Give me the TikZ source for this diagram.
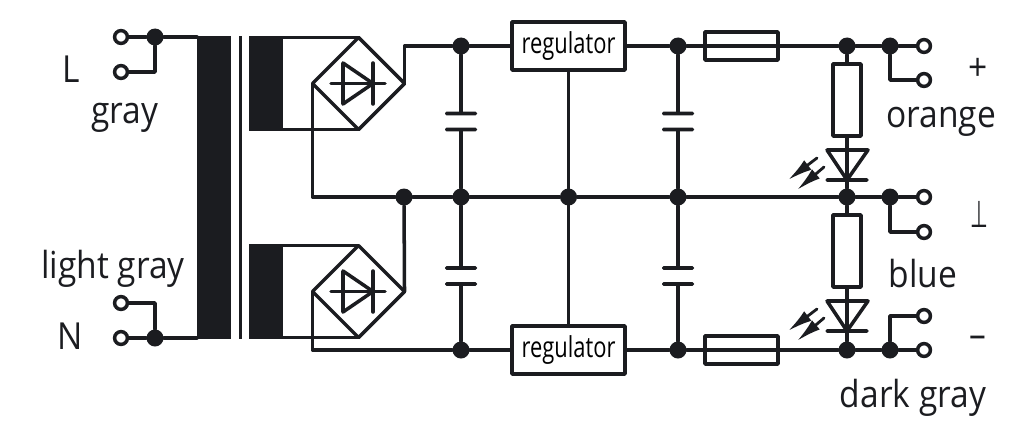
\documentclass[tikz,border=0pt]{standalone}
\usepackage{fontspec}
\setmainfont[FakeStretch=0.9]{Open Sans}
\newfontfamily\regfont[FakeStretch=0.76]{Open Sans}
\newfontfamily\symfont[FakeStretch=0.55]{DejaVu Sans}
\usetikzlibrary{arrows.meta, shapes.geometric}
\definecolor{ink}{HTML}{1B1C20}
\tikzset{
  wire/.style = {draw = ink, line width = 2.5pt, line cap = round, line join = round},
  dot/.style = {circle, fill = ink, minimum size = 0.425cm, inner sep = 0pt},
  term/.style = {circle, draw = ink, fill = white, line width = 2.5pt, minimum size = 0.32cm, inner sep = 0pt},
  plate/.style = {rectangle, fill = ink, rounded corners = 1pt, minimum width = 0.8cm, minimum height = 2.5pt, inner sep = 0pt, outer sep = 0pt},
  bar/.style = {plate, minimum width = 1.075cm},
  block/.style = {rectangle, fill = ink, inner sep = 0pt, outer sep = 0pt},
  bridge/.style = {diamond, wire, minimum width = 2.3cm, minimum height = 2.3cm, inner sep = 0pt, outer sep = 0pt},
  reg/.style = {rectangle, wire, minimum width = 2.825cm, minimum height = 1.2cm, inner sep = 0pt, font = \regfont\fontsize{20.5}{24}\selectfont},
  fuse/.style = {rectangle, wire, minimum width = 1.825cm, minimum height = 0.7cm, inner sep = 0pt},
  res/.style = {rectangle, wire, minimum width = 0.7cm, minimum height = 1.8cm, inner sep = 0pt},
  lab/.style = {text = ink, inner sep = 0pt, anchor = base, font = \fontsize{26.5}{30}\selectfont},
  ledarrow/.style = {draw = ink, line width = 2pt, line cap = round, -{Latex[length = 0.62cm, width = 0.3cm]}}
}
\begin{document}
\begin{tikzpicture}[x = 0.025cm, y = -0.025cm]
\useasboundingbox (0, 0) rectangle (1024, 441);
% transformer
\node[block, minimum width = 0.85cm, minimum height = 7.575cm] (core) at (214, 187.5) {};
\node[block, minimum width = 0.075cm, minimum height = 7.575cm] (shield) at (240, 187.5) {};
\node[block, minimum width = 0.85cm, minimum height = 2.375cm] (secA) at (266, 83.5) {};
\node[block, minimum width = 0.85cm, minimum height = 2.375cm] (secB) at (266, 291.5) {};
% input terminals
\node[dot] (dL) at (155, 37) {};
\node[dot] (dN) at (155, 338) {};
\node[term] (tL1) at (121, 37) {};
\node[term] (tL2) at (121, 72) {};
\node[term] (tN1) at (121, 303) {};
\node[term] (tN2) at (121, 338) {};
\draw[wire] (tL1) -- (dL) -- (dL -| core.west);
\draw[wire] (tL2) -| (dL);
\draw[wire] (tN2) -- (dN) -- (dN -| core.west);
\draw[wire] (tN1) -| (dN);
% bridges
\node[bridge] (brA) at (358.5, 83.5) {};
\node[bridge] (brB) at (358.5, 291.5) {};
\draw[wire] (brA.north -| secA.east) -- (brA.north);
\draw[wire] (brA.south -| secA.east) -- (brA.south);
\draw[wire] (brB.north -| secB.east) -- (brB.north);
\draw[wire] (brB.south -| secB.east) -- (brB.south);
\draw[wire] (343, 63) -- (343, 104) -- (373, 83.5) -- cycle;
\draw[wire] (373, 63) -- (373, 104);
\draw[wire] (331, 83.5) -- (385, 83.5);
\draw[wire] (343, 271) -- (343, 312) -- (373, 291.5) -- cycle;
\draw[wire] (373, 271) -- (373, 312);
\draw[wire] (331, 291.5) -- (385, 291.5);
% rail dots
\node[dot] (d1a) at (461, 46) {};
\node[dot] (d1b) at (461, 197) {};
\node[dot] (d1c) at (461, 350) {};
\node[dot] (d0) at (404, 197) {};
\node[dot] (dReg) at (568.5, 197) {};
\node[dot] (d2a) at (678, 46) {};
\node[dot] (d2b) at (678, 197) {};
\node[dot] (d2c) at (678, 350) {};
\node[dot] (d3a) at (847, 46) {};
\node[dot] (d3b) at (847, 197) {};
\node[dot] (d3c) at (847, 350) {};
\node[dot] (d4a) at (890, 46) {};
\node[dot] (d4b) at (890, 197) {};
\node[dot] (d4c) at (890, 350) {};
% boxes
\node[reg] (regA) at (568.5, 46) {regulator};
\node[reg] (regB) at (568.5, 350) {regulator};
\node[fuse] (fuA) at (741.5, 46) {};
\node[fuse] (fuB) at (741.5, 350) {};
\node[res] (resA) at (847, 100) {};
\node[res] (resB) at (847, 251) {};
% rails
\draw[wire] (brA.east) |- (d1a);
\draw[wire] (brA.west) |- (d0);
\draw[wire] (brB.east) -- (d0);
\draw[wire] (brB.west) |- (d1c);
\draw[wire] (d1a) -- (regA);
\draw[wire] (regA) -- (d2a);
\draw[wire] (d2a) -- (d3a) -- (d4a);
\draw[wire] (d0) -- (d1b) -- (dReg) -- (d2b) -- (d3b) -- (d4b);
\draw[wire] (d1c) -- (regB);
\draw[wire] (regB) -- (d2c);
\draw[wire] (d2c) -- (d3c) -- (d4c);
\draw[wire] (dReg |- regA.south) -- (dReg |- regB.north);
% capacitors
\node[plate] (c1a) at (461, 113.5) {};
\node[plate] (c1b) at (461, 129.5) {};
\node[plate] (c2a) at (461, 268) {};
\node[plate] (c2b) at (461, 284) {};
\node[plate] (c3a) at (678, 113.5) {};
\node[plate] (c3b) at (678, 129.5) {};
\node[plate] (c4a) at (678, 268) {};
\node[plate] (c4b) at (678, 284) {};
\draw[wire] (d1a) -- (c1a);
\draw[wire] (c1b) -- (d1b) -- (c2a);
\draw[wire] (c2b) -- (d1c);
\draw[wire] (d2a) -- (c3a);
\draw[wire] (c3b) -- (d2b) -- (c4a);
\draw[wire] (c4b) -- (d2c);
% leds
\node[bar] (ledA) at (847, 180) {};
\node[bar] (ledB) at (847, 331) {};
\draw[wire] (d3a) -- (resA) -- (ledA) -- (d3b);
\draw[wire] (d3b) -- (resB) -- (ledB) -- (d3c);
\draw[wire] (827, 150) -- (868, 150) -- (ledA.center) -- cycle;
\draw[wire] (827, 301) -- (868, 301) -- (ledB.center) -- cycle;
\coordinate (a1) at (817, 158);
\coordinate (a2) at (788, 180);
\coordinate (a3) at (824, 167);
\coordinate (a4) at (797, 190);
\coordinate (b1) at (817, 309);
\coordinate (b2) at (788, 331);
\coordinate (b3) at (824, 318);
\coordinate (b4) at (797, 341);
\draw[ledarrow] (a1) -- (a2);
\draw[ledarrow] (a3) -- (a4);
\draw[ledarrow] (b1) -- (b2);
\draw[ledarrow] (b3) -- (b4);
% output terminals
\node[term] (oA1) at (924, 46) {};
\node[term] (oA2) at (924, 80) {};
\node[term] (oB1) at (924, 197) {};
\node[term] (oB2) at (924, 232) {};
\node[term] (oC1) at (924, 316) {};
\node[term] (oC2) at (924, 350) {};
\draw[wire] (d4a) -- (oA1);
\draw[wire] (d4a) |- (oA2);
\draw[wire] (d4b) -- (oB1);
\draw[wire] (d4b) |- (oB2);
\draw[wire] (d4c) -- (oC2);
\draw[wire] (d4c) |- (oC1);
% labels
\node[lab] (lL) at (71, 82) {L};
\node[lab] (lGray) at (125, 123) {gray};
\node[lab] (lLight) at (113, 278) {light gray};
\node[lab] (lN) at (70, 349) {N};
\node[lab] (lPlus) at (978, 80) {+};
\node[lab] (lOrange) at (941, 127) {orange};
\node[lab] (lGnd) at (979, 227) {\symfont ⊥};
\node[lab] (lBlue) at (923, 287) {blue};
\node[lab] (lMinus) at (978, 347) {--};
\node[lab] (lDark) at (913, 407) {dark gray};
\end{tikzpicture}
\end{document}
